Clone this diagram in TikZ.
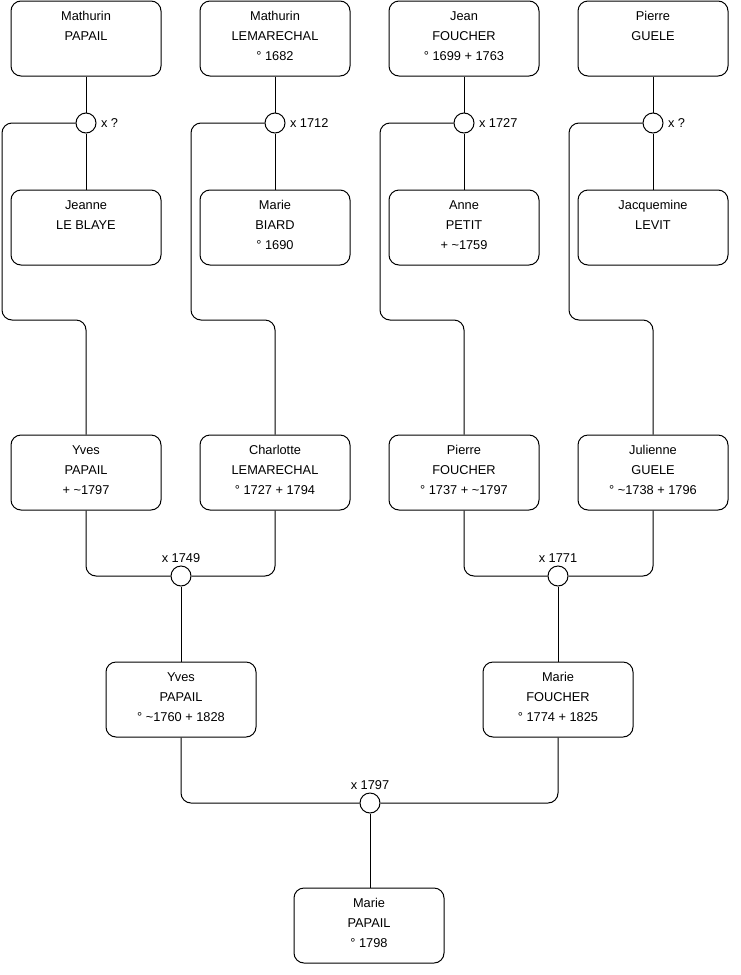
\documentclass[tikz,border=0pt]{standalone}
\usepackage{fontspec}
\setmainfont{Liberation Sans}
\newcommand\who[3]{#1\\#2\\#3\rule[-3.9pt]{0pt}{3.9pt}}
\newcommand\ca{\textasciitilde}

\begin{document}
\begin{tikzpicture}[x=0.75pt,y=-0.75pt,line width=0.75pt,person/.style={draw,rounded corners=7.5pt,align=center,minimum width=112.5pt,minimum height=56.25pt,inner sep=0pt,font=\fontsize{9.6pt}{15pt}\selectfont},union/.style={draw,circle,fill=white,minimum size=15pt,inner sep=0pt},every label/.style={font=\fontsize{9.6pt}{11pt}\selectfont,inner sep=1pt},link/.style={rounded corners=7.5pt}]
\useasboundingbox (0,0) rectangle (740,975);
% grandparents of the grandparents
\node[person] (papailM) at (86,38.5) {\who{Mathurin}{PAPAIL}{}};
\node[person] (lemarM) at (275,38.5) {\who{Mathurin}{LEMARECHAL}{° 1682}};
\node[person] (foucherJ) at (464,38.5) {\who{Jean}{FOUCHER}{° 1699 + 1763}};
\node[person] (gueleP) at (653,38.5) {\who{Pierre}{GUELE}{}};
\node[union,label={[label distance=2pt]right:x ?}] (x1) at (86,123) {};
\node[union,label={[label distance=2pt]right:x 1712}] (x2) at (275,123) {};
\node[union,label={[label distance=2pt]right:x 1727}] (x3) at (464,123) {};
\node[union,label={[label distance=2pt]right:x ?}] (x4) at (653,123) {};
\node[person] (leblayeJ) at (86,227.5) {\who{Jeanne}{LE BLAYE}{}};
\node[person] (biardM) at (275,227.5) {\who{Marie}{BIARD}{° 1690}};
\node[person] (petitA) at (464,227.5) {\who{Anne}{PETIT}{+ \ca1759}};
\node[person] (levitJ) at (653,227.5) {\who{Jacquemine}{LEVIT}{}};
% grandparents
\node[person] (papailY) at (86,472.5) {\who{Yves}{PAPAIL}{+ \ca1797}};
\node[person] (lemarC) at (275,472.5) {\who{Charlotte}{LEMARECHAL}{° 1727 + 1794}};
\node[person] (foucherP) at (464,472.5) {\who{Pierre}{FOUCHER}{° 1737 + \ca1797}};
\node[person] (gueleJ) at (653,472.5) {\who{Julienne}{GUELE}{° \ca1738 + 1796}};
\node[union,label={[label distance=1pt]above:x 1749}] (x5) at (181,576) {};
\node[union,label={[label distance=1pt]above:x 1771}] (x6) at (558,576) {};
% parents and child
\node[person] (papailY2) at (181,699.5) {\who{Yves}{PAPAIL}{° \ca1760 + 1828}};
\node[person] (foucherM) at (558,699.5) {\who{Marie}{FOUCHER}{° 1774 + 1825}};
\node[union,label={[label distance=1pt]above:x 1797}] (x7) at (370,803) {};
\node[person] (papailM2) at (369,925.5) {\who{Marie}{PAPAIL}{° 1798}};
\draw (papailM)--(x1)--(leblayeJ);\draw (lemarM)--(x2)--(biardM);
\draw (foucherJ)--(x3)--(petitA);\draw (gueleP)--(x4)--(levitJ);
\draw[link] (x1.west)-|(2,320)-|(papailY.north);\draw[link] (x2.west)-|(191,320)-|(lemarC.north);
\draw[link] (x3.west)-|(380,320)-|(foucherP.north);\draw[link] (x4.west)-|(569,320)-|(gueleJ.north);
\draw[link] (papailY.south)|-(x5.west);\draw[link] (lemarC.south)|-(x5.east);
\draw[link] (foucherP.south)|-(x6.west);\draw[link] (gueleJ.south)|-(x6.east);
\draw (x5)--(papailY2);\draw (x6)--(foucherM);
\draw[link] (papailY2.south)|-(x7.west);\draw[link] (foucherM.south)|-(x7.east);
\draw (x7)--(papailM2.north-|x7);
\end{tikzpicture}
\end{document}
